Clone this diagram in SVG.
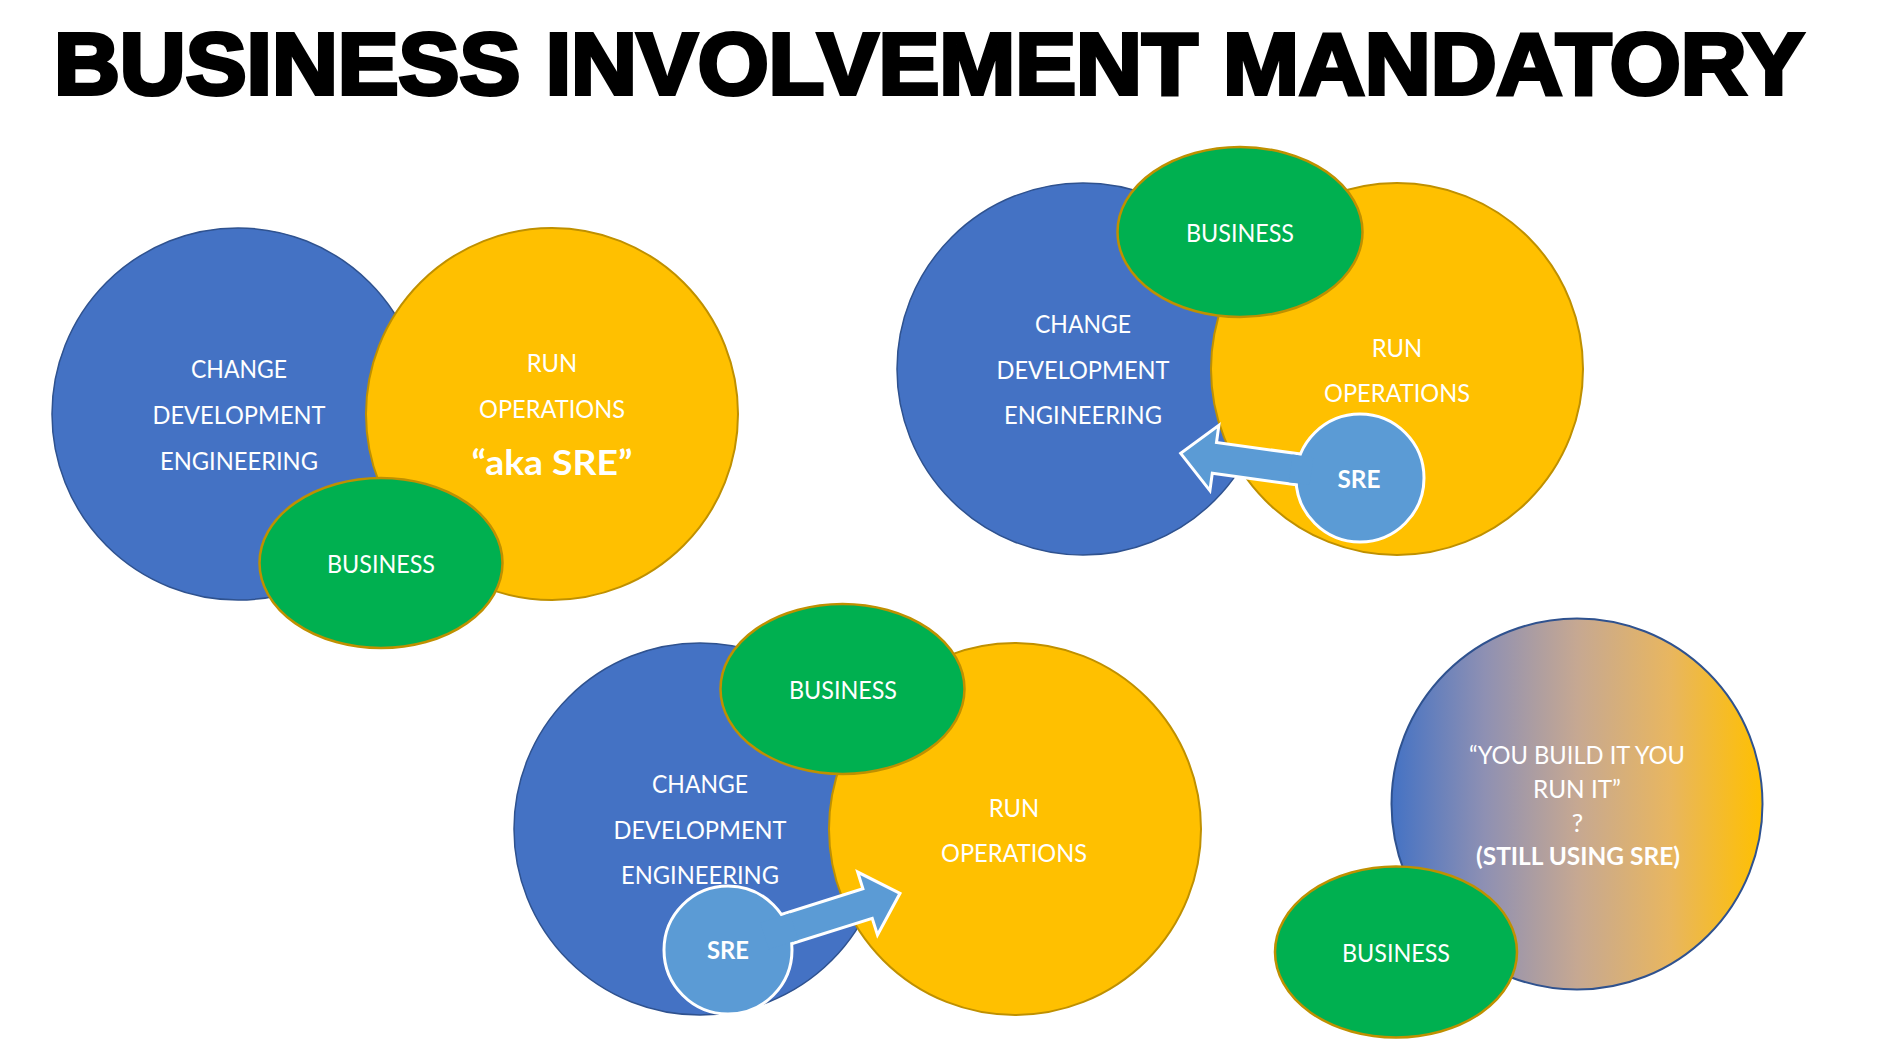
<svg xmlns="http://www.w3.org/2000/svg" xmlns:xlink="http://www.w3.org/1999/xlink" width="1895" height="1044" viewBox="0 0 1895 1044">
  <style>
    .title { font-family: "Liberation Sans", Arial, sans-serif; font-weight: bold; font-size: 87px; fill: #000; stroke: #000; stroke-width: 4px; stroke-linejoin: miter; }
    .change { fill: #4472C4; stroke: #2F528F; stroke-width: 1.5; }
    .run { fill: #FFC000; stroke: #BF9000; stroke-width: 2; }
    .biz { fill: #00B050; stroke: #BF9000; stroke-width: 2.5; }
    .sre { fill: #5B9BD5; stroke: #FFFFFF; stroke-width: 3; }
    .arrow { fill: #5B9BD5; stroke: #FFFFFF; stroke-width: 3; stroke-linejoin: miter; }
    .joint { fill: #5B9BD5; stroke: none; }
    .mix { fill: url(#blend); stroke: #2F528F; stroke-width: 2; }
    .lbl { font-family: Lato, "Liberation Sans", Arial, sans-serif; font-size: 25.5px; fill: #FFFFFF; text-anchor: middle; }
    .bold { font-weight: bold; }
  </style>
  <defs>
    <linearGradient id="blend" x1="0" y1="0" x2="1" y2="0">
      <stop offset="0" stop-color="#4472C4"/>
      <stop offset="0.25" stop-color="#8E90B3"/>
      <stop offset="0.5" stop-color="#C6A892"/>
      <stop offset="0.75" stop-color="#E8B660"/>
      <stop offset="1" stop-color="#FFC000"/>
    </linearGradient>
    <!-- block arrow pointing along +x, tip at the origin -->
    <path id="arrowA" d="M0,0 L-34,-33 L-34,-15.5 L-132,-15.5 L-132,15.5 L-34,15.5 L-34,33 Z"/>
    <path id="arrowB" d="M0,0 L-34,-33 L-34,-15.5 L-142,-15.5 L-142,15.5 L-34,15.5 L-34,33 Z"/>
  </defs>

  <rect width="1895" height="1044" fill="#FFFFFF"/>

  <text class="title" x="54" y="94" textLength="1750" lengthAdjust="spacingAndGlyphs">BUSINESS INVOLVEMENT MANDATORY</text>

  <!-- Model 1: run team is the SRE team -->
  <g id="m1-change">
    <circle class="change" cx="238" cy="414" r="186"/>
    <text class="lbl" x="239" y="378" textLength="96" lengthAdjust="spacingAndGlyphs">CHANGE</text>
    <text class="lbl" x="239" y="424" textLength="173" lengthAdjust="spacingAndGlyphs">DEVELOPMENT</text>
    <text class="lbl" x="239" y="470" textLength="158" lengthAdjust="spacingAndGlyphs">ENGINEERING</text>
  </g>
  <g id="m1-run">
    <circle class="run" cx="552" cy="414" r="186"/>
    <text class="lbl" x="552" y="372" textLength="50.5" lengthAdjust="spacingAndGlyphs">RUN</text>
    <text class="lbl" x="552" y="418" textLength="146" lengthAdjust="spacingAndGlyphs">OPERATIONS</text>
    <text class="lbl bold" x="552" y="475" style="font-size:34px" textLength="161" lengthAdjust="spacingAndGlyphs">“aka SRE”</text>
  </g>
  <g id="m1-business">
    <ellipse class="biz" cx="381" cy="563" rx="121.5" ry="85"/>
    <text class="lbl" x="381" y="573" textLength="108" lengthAdjust="spacingAndGlyphs">BUSINESS</text>
  </g>

  <!-- Model 2: SRE sits in run and pushes toward change -->
  <g id="m2-change">
    <circle class="change" cx="1083" cy="369" r="186"/>
    <text class="lbl" x="1083" y="333" textLength="96" lengthAdjust="spacingAndGlyphs">CHANGE</text>
    <text class="lbl" x="1083" y="379" textLength="173" lengthAdjust="spacingAndGlyphs">DEVELOPMENT</text>
    <text class="lbl" x="1083" y="424" textLength="158" lengthAdjust="spacingAndGlyphs">ENGINEERING</text>
  </g>
  <g id="m2-run">
    <circle class="run" cx="1397" cy="369" r="186"/>
    <text class="lbl" x="1397" y="357" textLength="50.5" lengthAdjust="spacingAndGlyphs">RUN</text>
    <text class="lbl" x="1397" y="402" textLength="146" lengthAdjust="spacingAndGlyphs">OPERATIONS</text>
  </g>
  <g id="m2-business">
    <ellipse class="biz" cx="1240" cy="232" rx="122.5" ry="85"/>
    <text class="lbl" x="1240" y="242" textLength="108" lengthAdjust="spacingAndGlyphs">BUSINESS</text>
  </g>

  <!-- Model 3: SRE sits in change and pushes toward run -->
  <g id="m3-change">
    <circle class="change" cx="700" cy="829" r="186"/>
    <text class="lbl" x="700" y="793" textLength="96" lengthAdjust="spacingAndGlyphs">CHANGE</text>
    <text class="lbl" x="700" y="839" textLength="173" lengthAdjust="spacingAndGlyphs">DEVELOPMENT</text>
    <text class="lbl" x="700" y="884" textLength="158" lengthAdjust="spacingAndGlyphs">ENGINEERING</text>
  </g>
  <g id="m3-run">
    <circle class="run" cx="1015" cy="829" r="186"/>
    <text class="lbl" x="1014" y="817" textLength="50.5" lengthAdjust="spacingAndGlyphs">RUN</text>
    <text class="lbl" x="1014" y="862" textLength="146" lengthAdjust="spacingAndGlyphs">OPERATIONS</text>
  </g>
  <g id="m3-business">
    <ellipse class="biz" cx="842.5" cy="689" rx="122" ry="85"/>
    <text class="lbl" x="843" y="699" textLength="108" lengthAdjust="spacingAndGlyphs">BUSINESS</text>
  </g>

  <!-- Model 4: you build it, you run it -->
  <g id="m4-merged">
    <circle class="mix" cx="1577" cy="804" r="185.5"/>
    <text class="lbl" x="1577" y="764" textLength="216" lengthAdjust="spacingAndGlyphs">“YOU BUILD IT YOU</text>
    <text class="lbl" x="1577" y="798" textLength="88" lengthAdjust="spacingAndGlyphs">RUN IT”</text>
    <text class="lbl" x="1577.5" y="832">?</text>
    <text class="lbl bold" x="1578" y="865" textLength="204" lengthAdjust="spacingAndGlyphs">(STILL USING SRE)</text>
  </g>
  <g id="m4-business">
    <ellipse class="biz" cx="1396" cy="952" rx="121" ry="85.5"/>
    <text class="lbl" x="1396" y="962" textLength="108" lengthAdjust="spacingAndGlyphs">BUSINESS</text>
  </g>

  <!-- connectors: block arrows leaving the SRE nodes -->
  <g id="connectors">
    <use xlink:href="#arrowA" class="arrow" transform="translate(1180.7,453.3) rotate(187.8)"/>
    <use xlink:href="#arrowB" class="arrow" transform="translate(900,893.3) rotate(-17.5)"/>
  </g>

  <!-- SRE nodes, with the arrow shaft running into each one -->
  <g id="m2-sre">
    <circle class="sre" cx="1360" cy="478" r="64"/>
    <rect class="joint" x="-132" y="-14" width="21" height="28" transform="translate(1180.7,453.3) rotate(187.8)"/>
    <text class="lbl bold" x="1359" y="488" textLength="43" lengthAdjust="spacingAndGlyphs">SRE</text>
  </g>
  <g id="m3-sre">
    <circle class="sre" cx="728" cy="950" r="64"/>
    <rect class="joint" x="-142" y="-14" width="31" height="28" transform="translate(900,893.3) rotate(-17.5)"/>
    <text class="lbl bold" x="728" y="959" textLength="42" lengthAdjust="spacingAndGlyphs">SRE</text>
  </g>
</svg>
